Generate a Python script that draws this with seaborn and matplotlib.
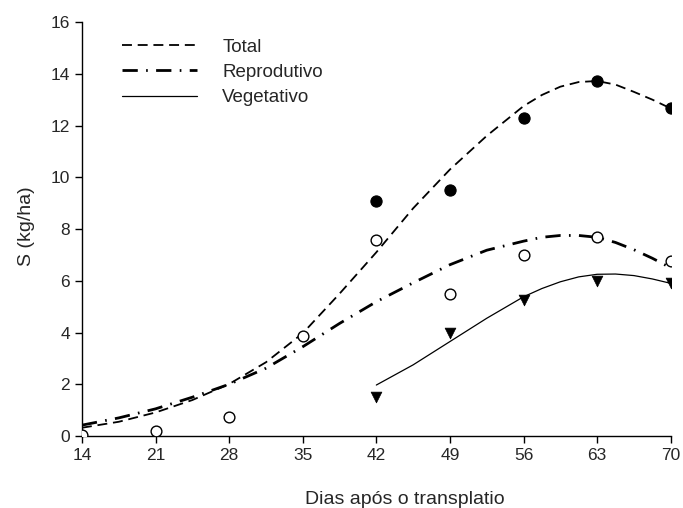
import matplotlib
matplotlib.use("Agg")
import matplotlib.pyplot as plt
import seaborn as sns
import pandas as pd

# Observed points
days = [14, 21, 28, 35, 42, 49, 56, 63, 70]
total_days = [42, 49, 56, 63, 70]
total_obs = [9.07, 9.51, 12.28, 13.72, 12.68]
repro_obs = [0.05, 0.19, 0.75, 3.87, 7.57, 5.49, 6.98, 7.70, 6.77]
veg_days = [42, 49, 56, 63, 70]
veg_obs = [1.52, 4.00, 5.25, 5.98, 5.90]

# Fitted curves
curve_days = [14, 17.5, 21, 24.5, 28, 31.5, 35, 38.5, 42, 45.5, 49, 52.5, 56,
              57.75, 59.5, 61.25, 63, 64.75, 66.5, 68.25, 70]
total_fit = [0.32, 0.55, 0.91, 1.39, 2.01, 2.85, 3.97, 5.50, 7.10, 8.80, 10.30, 11.60, 12.75,
             13.18, 13.50, 13.68, 13.72, 13.58, 13.30, 13.00, 12.66]
repro_fit = [0.42, 0.70, 1.05, 1.50, 2.00, 2.62, 3.45, 4.35, 5.19, 5.92, 6.62, 7.18, 7.53,
             7.68, 7.75, 7.75, 7.68, 7.48, 7.20, 6.87, 6.50]
veg_curve_days = [42, 45.5, 49, 52.5, 56, 57.75, 59.5, 61.25, 63, 64.75, 66.5, 68.25, 70]
veg_fit = [1.97, 2.75, 3.65, 4.55, 5.38, 5.70, 5.96, 6.15, 6.25, 6.26, 6.20, 6.07, 5.90]

xticks = [14, 21, 28, 35, 42, 49, 56, 63, 70]
yticks = [0, 2, 4, 6, 8, 10, 12, 14, 16]

sns.set_style("ticks")
plt.rcParams['font.family'] = ['Liberation Sans', 'DejaVu Sans']

fig = plt.figure(figsize=(6.83, 5.08), dpi=100)
ax = fig.add_axes([0.120, 0.1417, 0.862, 0.815])

df_t = pd.DataFrame({"x": curve_days, "y": total_fit})
df_r = pd.DataFrame({"x": curve_days, "y": repro_fit})
df_v = pd.DataFrame({"x": veg_curve_days, "y": veg_fit})

sns.lineplot(data=df_t, x="x", y="y", ax=ax, color="black", lw=1.3,
             label="Total", dashes=False)
sns.lineplot(data=df_r, x="x", y="y", ax=ax, color="black", lw=2.0,
             label="Reprodutivo", dashes=False)
sns.lineplot(data=df_v, x="x", y="y", ax=ax, color="black", lw=0.9,
             label="Vegetativo", dashes=False)
lines = ax.get_lines()
lines[0].set_dashes([5.5, 3.2])
lines[1].set_dashes([5.5, 3, 0.6, 3])
for ln in lines[:3]:
    ln.set_solid_joinstyle("round")
    ln.set_dash_joinstyle("round")

sns.scatterplot(x=total_days, y=total_obs, ax=ax, color="black", s=65,
                marker="o", edgecolor="black", linewidth=0.8, zorder=5)
sns.scatterplot(x=days, y=repro_obs, ax=ax, facecolor="white", s=60,
                marker="o", edgecolor="black", linewidth=1.0, zorder=5)
sns.scatterplot(x=veg_days, y=veg_obs, ax=ax, color="black", s=60,
                marker="v", edgecolor="black", linewidth=0.5, zorder=5)

ax.set_xlim(14, 70)
ax.set_ylim(0, 16)
ax.set_xticks(xticks)
ax.set_yticks(yticks)
ax.tick_params(axis="both", labelsize=12.5, direction="out", length=5, width=1, color="black")
ax.set_xlabel("Dias após o transplatio", fontsize=14)
ax.set_ylabel("S (kg/ha)", fontsize=14)
ax.xaxis.set_label_coords(0.549, -0.134)
ax.yaxis.set_label_coords(-0.080, 0.506)
for s in ["left", "bottom"]:
    ax.spines[s].set_linewidth(1.0)
    ax.spines[s].set_color("black")
sns.despine(ax=ax)

handles = lines[:3]
leg = ax.legend(handles, ["Total", "Reprodutivo", "Vegetativo"], loc="upper left",
                bbox_to_anchor=(0.068, 0.960), frameon=False, fontsize=13.5,
                handlelength=4.0, handletextpad=1.35, labelspacing=0.44,
                borderaxespad=0, borderpad=0)

fig.savefig("out.png", dpi=100)
